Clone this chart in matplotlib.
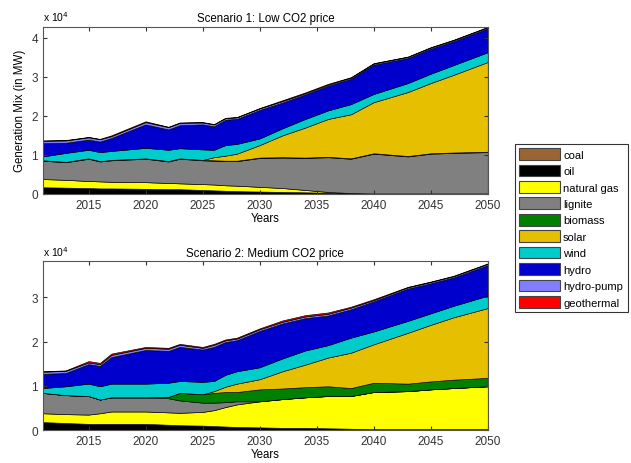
import numpy as np
import matplotlib.pyplot as plt
from matplotlib.patches import Patch
from matplotlib.ticker import FuncFormatter

plt.rcParams['font.family'] = ['Liberation Sans', 'DejaVu Sans']
plt.rcParams['font.size'] = 8

years = [2011, 2013, 2015, 2016, 2017, 2020, 2022, 2023, 2025, 2026, 2027,
         2028, 2030, 2032, 2034, 2036, 2038, 2040, 2043, 2045, 2047, 2050]

names = ['coal', 'oil', 'natural gas', 'lignite', 'biomass', 'solar',
         'wind', 'hydro', 'hydro-pump', 'geothermal']
colors = ['#996633', '#000000', '#ffff00', '#808080', '#008000', '#e6c000',
          '#00cccc', '#0000cc', '#8080ff', '#ff0000']

# cumulative tops, in units of 1e4 MW
# scenario 1: low CO2 price
s1_oil = [0.17, 0.16, 0.15, 0.14, 0.14, 0.13, 0.12, 0.12, 0.10, 0.09, 0.08,
          0.07, 0.06, 0.05, 0.04, 0.03, 0.01, 0.0, 0.0, 0.0, 0.0, 0.0]
s1_gas = [0.38, 0.36, 0.33, 0.32, 0.31, 0.30, 0.28, 0.27, 0.25, 0.24, 0.22,
          0.21, 0.18, 0.15, 0.10, 0.05, 0.02, 0.01, 0.01, 0.01, 0.01, 0.01]
s1_lignite = [0.85, 0.81, 0.90, 0.83, 0.86, 0.90, 0.83, 0.90, 0.86, 0.85, 0.84,
              0.84, 0.92, 0.93, 0.92, 0.94, 0.90, 1.03, 0.96, 1.03, 1.05, 1.07]
s1_biomass = [0.86, 0.82, 0.91, 0.84, 0.87, 0.91, 0.84, 0.91, 0.87, 0.86, 0.85,
              0.85, 0.93, 0.94, 0.93, 0.95, 0.91, 1.04, 0.97, 1.04, 1.06, 1.08]
s1_solar = [0.86, 0.82, 0.91, 0.84, 0.87, 0.91, 0.84, 0.91, 0.87, 0.94, 0.98,
            1.03, 1.25, 1.50, 1.70, 1.92, 2.04, 2.35, 2.61, 2.84, 3.05, 3.38]
s1_wind = [0.96, 1.05, 1.13, 1.07, 1.10, 1.18, 1.13, 1.17, 1.14, 1.13, 1.25,
           1.28, 1.42, 1.68, 1.92, 2.14, 2.30, 2.56, 2.84, 3.08, 3.30, 3.63]
s1_hydro = [1.30, 1.31, 1.39, 1.34, 1.43, 1.78, 1.65, 1.76, 1.78, 1.73, 1.90,
            1.92, 2.15, 2.34, 2.55, 2.77, 2.95, 3.31, 3.48, 3.72, 3.91, 4.24]
s1_pump = [1.36, 1.37, 1.45, 1.40, 1.48, 1.84, 1.71, 1.82, 1.83, 1.78, 1.94,
           1.96, 2.19, 2.38, 2.58, 2.80, 2.98, 3.34, 3.51, 3.75, 3.94, 4.27]
s1_total = [1.37, 1.38, 1.46, 1.41, 1.50, 1.86, 1.72, 1.83, 1.84, 1.79, 1.95,
            1.97, 2.20, 2.40, 2.60, 2.82, 2.99, 3.35, 3.52, 3.76, 3.95, 4.28]

# scenario 2: medium CO2 price
s2_oil = [0.18, 0.16, 0.14, 0.14, 0.14, 0.14, 0.12, 0.11, 0.10, 0.09, 0.08,
          0.07, 0.06, 0.05, 0.05, 0.04, 0.03, 0.02, 0.02, 0.02, 0.02, 0.02]
s2_gas = [0.38, 0.36, 0.35, 0.38, 0.42, 0.42, 0.40, 0.39, 0.41, 0.45, 0.52,
          0.58, 0.65, 0.70, 0.74, 0.77, 0.77, 0.86, 0.88, 0.92, 0.95, 0.99]
s2_lignite = [0.84, 0.79, 0.77, 0.69, 0.74, 0.74, 0.72, 0.67, 0.62, 0.62, 0.63,
              0.65, 0.65, 0.70, 0.74, 0.77, 0.77, 0.86, 0.88, 0.92, 0.95, 0.99]
s2_biomass = [0.84, 0.79, 0.77, 0.69, 0.74, 0.74, 0.75, 0.84, 0.81, 0.84, 0.86,
              0.86, 0.92, 0.94, 0.97, 0.99, 0.95, 1.07, 1.05, 1.10, 1.14, 1.18]
s2_solar = [0.84, 0.79, 0.77, 0.69, 0.74, 0.74, 0.75, 0.84, 0.81, 0.88, 0.98,
            1.05, 1.15, 1.33, 1.48, 1.64, 1.75, 1.94, 2.20, 2.38, 2.55, 2.76]
s2_wind = [0.95, 0.99, 1.05, 0.99, 1.05, 1.05, 1.07, 1.11, 1.09, 1.11, 1.25,
           1.33, 1.42, 1.62, 1.80, 1.92, 2.09, 2.23, 2.47, 2.64, 2.81, 3.04]
s2_hydro = [1.27, 1.29, 1.49, 1.45, 1.65, 1.81, 1.79, 1.88, 1.82, 1.88, 1.99,
            2.03, 2.24, 2.41, 2.53, 2.59, 2.73, 2.91, 3.20, 3.32, 3.45, 3.73]
s2_pump = [1.32, 1.34, 1.53, 1.49, 1.70, 1.86, 1.84, 1.93, 1.86, 1.93, 2.03,
           2.07, 2.28, 2.45, 2.57, 2.63, 2.77, 2.94, 3.23, 3.35, 3.48, 3.76]
s2_total = [1.33, 1.35, 1.56, 1.52, 1.73, 1.88, 1.86, 1.95, 1.88, 1.95, 2.05,
            2.09, 2.30, 2.48, 2.60, 2.66, 2.79, 2.96, 3.24, 3.36, 3.49, 3.77]


def layers(tops):
    # turn cumulative tops into layer heights in MW; coal is empty
    t = np.array(tops) * 1e4
    d = np.diff(np.vstack([np.zeros(len(years)), t]), axis=0)
    d = np.clip(d, 0, None)
    return np.vstack([np.zeros(len(years)), d])


s1 = layers([s1_oil, s1_gas, s1_lignite, s1_biomass, s1_solar, s1_wind,
             s1_hydro, s1_pump, s1_total])
s2 = layers([s2_oil, s2_gas, s2_lignite, s2_biomass, s2_solar, s2_wind,
             s2_hydro, s2_pump, s2_total])

fig = plt.figure(figsize=(6.31, 4.64), dpi=100)
ax1 = fig.add_axes([0.068, 0.58, 0.705, 0.36])
ax2 = fig.add_axes([0.068, 0.071, 0.705, 0.364])

fmt = FuncFormatter(lambda v, pos: '%g' % (v / 1e4))
for ax, data, title, top, yt in [
        (ax1, s1, 'Scenario 1: Low CO2 price', 4.28e4, [0, 1e4, 2e4, 3e4, 4e4]),
        (ax2, s2, 'Scenario 2: Medium CO2 price', 3.82e4, [0, 1e4, 2e4, 3e4])]:
    ax.stackplot(years, data, colors=colors, edgecolor='k', linewidth=0.45)
    ax.set_xlim(2011, 2050)
    ax.set_ylim(0, top)
    ax.set_xticks(range(2015, 2051, 5))
    ax.set_yticks(yt)
    ax.yaxis.set_major_formatter(fmt)
    ax.tick_params(direction='in', top=True, right=True, length=3,
                   labelsize=8.5, colors='#333333')
    ax.set_title(title, fontsize=8.3, pad=4)
    ax.set_xlabel('Years', fontsize=8.3, labelpad=1)
    ax.text(0.0, 1.02, 'x 10$^4$', transform=ax.transAxes, fontsize=7.5,
            ha='left', va='bottom')
    for s in ax.spines.values():
        s.set_color('#555555')
        s.set_linewidth(0.8)

ax1.set_ylabel('Generation Mix (in MW)', fontsize=8.3, labelpad=4)

handles = [Patch(facecolor=c, edgecolor='#444444', linewidth=0.8) for c in colors]
leg = fig.legend(handles, names, loc='upper left',
                 bbox_to_anchor=(0.816, 0.688), fontsize=8,
                 frameon=True, fancybox=False, edgecolor='k',
                 handlelength=3.7, handleheight=1.25, handletextpad=0.25,
                 labelspacing=0.42, borderpad=0.4, borderaxespad=0)
leg.get_frame().set_linewidth(0.8)

fig.savefig('out.png', dpi=100)
